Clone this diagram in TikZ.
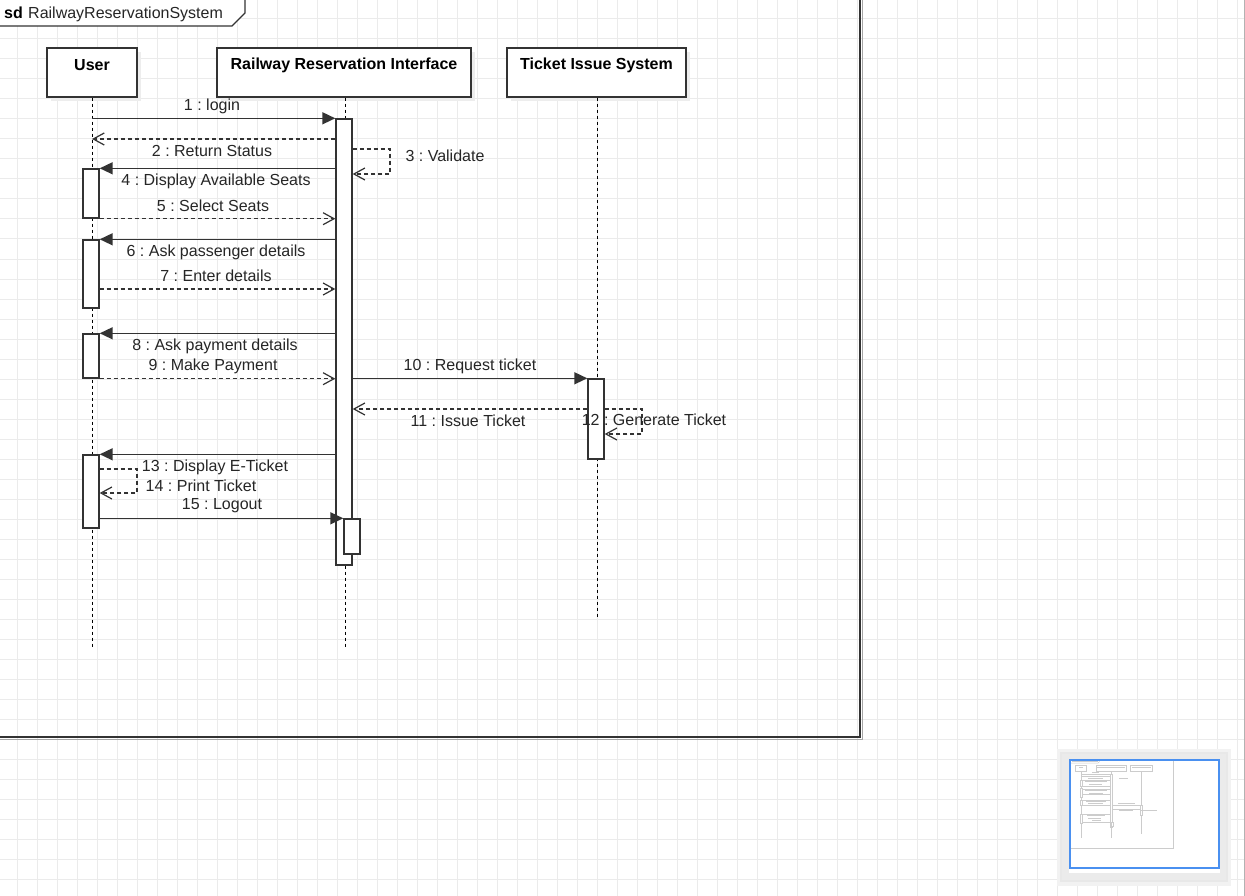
\documentclass[tikz,border=0pt]{standalone}
\usepackage{fontspec}
\setmainfont{Liberation Sans}
\usetikzlibrary{arrows.meta}
\definecolor{gridc}{HTML}{EBEBEB}
\definecolor{ln}{HTML}{333333}
\definecolor{txt}{HTML}{262626}
\definecolor{mini}{HTML}{CCCCCC}
\definecolor{miniblue}{HTML}{4A90F0}
\frenchspacing
\begin{document}
\begin{tikzpicture}[x=1pt,y=-1pt,
  lbl/.style={font=\fontsize{16}{19}\selectfont, text=txt, inner sep=0pt},
  head/.style={font=\fontsize{16}{19}\selectfont\bfseries, text=black, inner sep=0pt},
  lifebox/.style={draw=ln, line width=1.4pt, fill=white, minimum width=#1, minimum height=49pt, inner sep=0pt},
  shadowbox/.style={fill=black!7, minimum width=#1, minimum height=49pt, inner sep=0pt},
  actbar/.style={draw=ln, line width=1.4pt, fill=white, minimum width=16pt, minimum height=#1, inner sep=0pt},
  lifeline/.style={black, line width=1pt, dash pattern=on 3pt off 3pt},
  msg/.style={ln, line width=1.5pt},
  sync/.style={msg, -{Triangle[length=13pt,width=12pt]}},
  reply/.style={msg, dash pattern=on 4pt off 3pt, -{Straight Barb[length=11pt,width=12pt,line width=1.2pt]}},
  minil/.style={mini, line width=4pt}
]
\useasboundingbox (0,0) rectangle (1245,896);
\clip (0,0) rectangle (1245,896);
\fill[white] (0,0) rectangle (1245,896);
% grid
\foreach \x in {17,37,...,1237} \draw[gridc, line width=1pt] (\x,0) -- (\x,896);
\foreach \y in {19,39,...,879} \draw[gridc, line width=1pt] (0,\y) -- (1245,\y);
% scrollbar edge
\draw[black!30, line width=1.5pt] (1244.5,0) -- (1244.5,896);

% frame
\draw[black!35, line width=1pt] (-10,-10) rectangle (862,739);
\draw[ln, line width=1.6pt] (-10,-10) rectangle (860,737);
\draw[ln, line width=1.4pt, fill=white] (-10,-10) -- (245,-10) -- (245,13) -- (232,26) -- (-10,26) -- cycle;
\node[head, anchor=base west] (sdkw) at (4,19) {sd};
\node[lbl, anchor=base west] (sdname) at (28,19) {RailwayReservationSystem};

% lifeline heads (shadows)
\node[shadowbox=90pt] at (96,76.5) {};
\node[shadowbox=254pt] at (348,76.5) {};
\node[shadowbox=179pt] at (600.5,76.5) {};
\node[lifebox=90pt] (userbox) at (92,72.5) {};
\node[lifebox=254pt] (rribox) at (344,72.5) {};
\node[lifebox=179pt] (tisbox) at (596.5,72.5) {};
\node[head] (usertxt) at (92,65) {User};
\node[head] (rritxt) at (344,65) {Railway Reservation Interface};
\node[head] (tistxt) at (596.5,65) {Ticket Issue System};

% lifelines
\coordinate (userend) at (92,648);
\coordinate (rriend) at (345,648);
\coordinate (tisend) at (597,618);
\draw[lifeline] (userbox.south) -- (userend);
\draw[lifeline] (rribox.south -| rriend) -- (rriend);
\draw[lifeline] (tisbox.south -| tisend) -- (tisend);

% activation bars
\node[actbar=446pt] (rriA) at (344,342) {};
\node[actbar=35pt] (rriB) at (352,536.5) {};
\node[actbar=49pt] (uA1) at (91,193.5) {};
\node[actbar=68pt] (uA2) at (91,274) {};
\node[actbar=44pt] (uA3) at (91,356) {};
\node[actbar=73pt] (uA4) at (91,491.5) {};
\node[actbar=80pt] (tisA) at (596,419) {};

% messages
\draw[sync] (userbox |- rriA.north west) -- (rriA.north west);
\node[lbl] (m1) at (212,106) {1 : login};
\draw[reply] (rriA.west |- 0,139) -- (userbox |- 0,139);
\node[lbl] (m2) at (212,151) {2 : Return Status};
\draw[reply] (rriA.east |- 0,149) -- (390,149) |- (rriA.east |- 0,174);
\node[lbl] (m3) at (445,156) {3 : Validate};
\draw[sync] (rriA.west |- uA1.north) -- (uA1.north east);
\node[lbl] (m4) at (216,181) {4 : Display Available Seats};
\draw[reply] (uA1.south east) -- (rriA.west |- uA1.south);
\node[lbl] (m5) at (213,206) {5 : Select Seats};
\draw[sync] (rriA.west |- uA2.north) -- (uA2.north east);
\node[lbl] (m6) at (216,252) {6 : Ask passenger details};
\draw[reply] (uA2.east |- 0,289) -- (rriA.west |- 0,289);
\node[lbl] (m7) at (216,276) {7 : Enter details};
\draw[sync] (rriA.west |- uA3.north) -- (uA3.north east);
\node[lbl] (m8) at (215,346) {8 : Ask payment details};
\draw[reply] (uA3.south east) -- (rriA.west |- uA3.south);
\node[lbl] (m9) at (213,366) {9 : Make Payment};
\draw[sync] (rriA.east |- tisA.north) -- (tisA.north west);
\node[lbl] (m10) at (470,366) {10 : Request ticket};
\draw[reply] (tisA.west |- 0,409) -- (rriA.east |- 0,409);
\node[lbl] (m11) at (468,421) {11 : Issue Ticket};
\draw[reply] (tisA.east |- 0,409) -- (642,409) |- (tisA.east |- 0,434);
\node[lbl] (m12) at (654,420) {12 : Generate Ticket};
\draw[sync] (rriA.west |- uA4.north) -- (uA4.north east);
\node[lbl] (m13) at (215,467) {13 : Display E-Ticket};
\draw[reply] (uA4.east |- 0,469) -- (137,469) |- (uA4.east |- 0,493);
\node[lbl] (m14) at (201,486) {14 : Print Ticket};
\draw[sync] (uA4.east |- rriB.north) -- (rriB.north west);
\node[lbl] (m15) at (222,506) {15 : Logout};

% outline (minimap)
\fill[black!5] (1057,749) rectangle (1231,886);
\fill[black!9] (1060,752) rectangle (1228,882);
\fill[gridc] (1062,754) rectangle (1226,880);
\fill[white] (1069,760) rectangle (1220,873);
\begin{scope}[shift={(1070,760)}, scale=0.12]
  \draw[minil, line width=0.9pt] (0,0) rectangle (860,737);
  \draw[minil, line width=0.6pt] (0,0) -- (245,0) -- (245,13) -- (232,26) -- (0,26);
  \draw[minil, line width=0.8pt] (47,48) rectangle (137,97);
  \draw[minil, line width=0.8pt] (217,48) rectangle (471,97);
  \draw[minil, line width=0.8pt] (507,48) rectangle (686,97);
  \draw[minil, line width=0.4pt] (92,97) -- (92,648);
  \draw[minil, line width=0.4pt] (345,97) -- (345,648);
  \draw[minil, line width=0.4pt] (597,97) -- (597,618);
  \draw[minil, line width=0.7pt, fill=white] (336,119) rectangle (352,565);
  \draw[minil, line width=0.7pt, fill=white] (344,519) rectangle (360,554);
  \draw[minil, line width=0.7pt, fill=white] (83,169) rectangle (99,218);
  \draw[minil, line width=0.7pt, fill=white] (83,240) rectangle (99,308);
  \draw[minil, line width=0.7pt, fill=white] (83,334) rectangle (99,378);
  \draw[minil, line width=0.7pt, fill=white] (83,455) rectangle (99,528);
  \draw[minil, line width=0.7pt, fill=white] (588,379) rectangle (604,459);
  \foreach \yy in {119,139,169,218,240,289,334,378,455,519}
    \draw[minil, line width=0.4pt] (99,\yy) -- (336,\yy);
  \foreach \yy in {379,409}
    \draw[minil, line width=0.4pt] (352,\yy) -- (588,\yy);
  \foreach \cx/\cy/\w in {92/64/30,344/64/230,596/64/155,212/105/55,212/150/120,445/155/80,216/180/190,213/205/115,216/251/180,216/275/115,215/345/165,213/365/130,470/365/135,468/420/115,654/419/145,215/466/150,201/485/110,222/505/80,126/13/220}
    \fill[mini] (\cx-\w/2,\cy-4) rectangle (\cx+\w/2,\cy+4);
\end{scope}
\draw[miniblue, line width=1.5pt] (1070,760) rectangle (1219,868);
\end{tikzpicture}
\end{document}
